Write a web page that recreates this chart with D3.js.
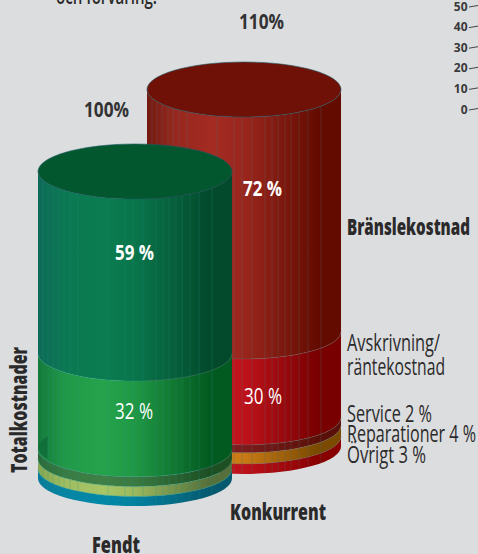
<!DOCTYPE html>
<html><head><meta charset="utf-8">
<script src="https://cdn.jsdelivr.net/npm/d3@7"></script>
<style>html,body{margin:0;padding:0;background:#dcddde;overflow:hidden}svg{display:block}text{font-family:"Open Sans",sans-serif}</style>
</head><body><div id="c"></div>
<script>
// ---- data ----
const segments = ["Bränslekostnad","Avskrivning/räntekostnad","Service","Reparationer","Övrigt"];
const fendtLabels = [59,32,3,3,3];
const konkurrentLabels = [72,30,2,4,3];
// the drawn band heights of the original are not strictly proportional to its labels
const fendtDrawn = [59.3,31.2,3.2,3.2,3.1];
const konkurrentDrawn = [78.8,28,2.6,3.6,3.25];
const axisTicks = [0,10,20,30,40,50];
const streakOffsets = [-92,-87,-82,-76,-71,-65,-57,-27,-10,-2,8,21,28,34,41,47,55,64,77];
const fendtColors = [
  ["#0e6a58","#0a7c50","#034a2c"],["#147a3a","#25a34b","#035a20"],
  ["#2a6a3a","#3f8046","#1d4f22"],["#86a650","#a8c666","#55703a"],["#0a7a99","#0388a8","#055a70"]];
const konkurrentColors = [
  ["#731a10","#a32b22","#640b00"],["#cc1520","#cc1520","#780000"],
  ["#7d2020","#801e20","#5a1008"],["#d68218","#d68218","#7a4a00"],["#c8141e","#c8141e","#880000"]];

const W=478,H=554;
const svg=d3.select("#c").append("svg").attr("width",W).attr("height",H);
svg.append("rect").attr("width",W).attr("height",H).attr("fill","#dcddde");
const defs=svg.append("defs");
const h=d3.scaleLinear().domain([0,100]).range([0,307]);
const rx=97, ry=27.5;

function cylinder(id,cx,topY,drawn,colors,topColor,streak,streakOp){
  const g=svg.append("g");
  const cum=d3.cumsum(drawn);
  const ys=[topY,...cum.map(v=>topY+h(v))];
  const x=d3.scaleLinear().domain([0,1]).range([cx-rx,cx+rx]);
  const arcY=(dx,y)=>y+ry*Math.sqrt(Math.max(0,1-dx*dx/(rx*rx)));
  drawn.forEach((d,i)=>{
    const gid=id+"g"+i;
    const gr=defs.append("linearGradient").attr("id",gid).attr("gradientUnits","userSpaceOnUse")
      .attr("x1",x(0)).attr("x2",x(1)).attr("y1",0).attr("y2",0);
    [[0,colors[i][0]],[0.14,d3.interpolateRgb(colors[i][0],colors[i][1])(0.75)],[0.34,colors[i][1]],[0.5,d3.interpolateRgb(colors[i][1],colors[i][2])(0.15)],[0.88,colors[i][2]],[1,colors[i][2]]]
      .forEach(s=>gr.append("stop").attr("offset",s[0]).attr("stop-color",s[1]));
    const y0=ys[i],y1=ys[i+1];
    g.append("path")
      .attr("d",`M${cx-rx},${y0}A${rx},${ry} 0 0 0 ${cx+rx},${y0}L${cx+rx},${y1}A${rx},${ry} 0 0 1 ${cx-rx},${y1}Z`)
      .attr("fill",`url(#${gid})`);
    g.selectAll(null).data(streakOffsets).join("line")
      .attr("x1",d=>cx+d).attr("x2",d=>cx+d)
      .attr("y1",d=>arcY(d,y0)).attr("y2",d=>arcY(d,y1))
      .attr("stroke",streak).attr("stroke-opacity",streakOp).attr("stroke-width",0.7);
    if(i>0) g.append("path").attr("d",`M${cx-rx},${y0}A${rx},${ry} 0 0 0 ${cx+rx},${y0}`)
      .attr("fill","none").attr("stroke",streak).attr("stroke-opacity",0.55).attr("stroke-width",0.7);
  });
  g.append("ellipse").attr("cx",cx).attr("cy",topY).attr("rx",rx).attr("ry",ry)
    .attr("fill",topColor).attr("stroke","#1c5a66").attr("stroke-width",0.6);
  return g;
}
cylinder("k",244,89.5,konkurrentDrawn,konkurrentColors,"#701107","#5c6a6a",0.45);
const fg=cylinder("f",135,171.5,fendtDrawn,fendtColors,"#03572f","#1f9a88",0.35);
// small dark wedge at the left of the 32 % band
fg.append("path").attr("d","M38,447 Q39,441 47.5,436.5 L47.5,458 Q39,454 38,447Z").attr("fill","#11703a");

function txt(s,x,y,w,size,weight,fill,rot){
  const t=svg.append("text").attr("x",x).attr("y",y).attr("font-size",size).attr("font-weight",weight)
    .attr("fill",fill).attr("textLength",w).attr("lengthAdjust","spacingAndGlyphs").text(s);
  if(rot) t.attr("transform",`rotate(-90 ${x} ${y})`);
  return t;
}
const dark="#2b2a2b";
txt("och förvaring.",56,4,101,22,600,dark);
txt("110%",239,29,45,22,700,"#333234");
txt("100%",84,117,45,22,700,"#333234");
txt(konkurrentLabels[0]+" %",243,196,39,21,700,"#fff");
txt(fendtLabels[0]+" %",115,260,39,21,700,"#fff");
txt(fendtLabels[1]+" %",115,418.5,38,21,400,"#fff");
txt(konkurrentLabels[1]+" %",244,404,38,21,400,"#fff");
txt(segments[0],347,235,123,22,800,dark);
txt("Avskrivning/",347,351,93,23.5,500,dark);
txt("räntekostnad",347,375,98,23.5,500,dark);
txt(segments[2]+" "+konkurrentLabels[2]+" %",347,422,85,23.5,500,dark);
txt(segments[3]+" "+konkurrentLabels[3]+" %",347,442,129,23.5,500,dark);
txt(segments[4]+" "+konkurrentLabels[4]+" %",347,462.5,79,23.5,500,dark);
txt("Konkurrent",230,520,96,22,800,dark);
txt("Fendt",92,552.5,48,22,800,dark);
txt("Totalkostnader",27,473,126,22,800,dark,true);

const ay=d3.scaleLinear().domain([0,50]).range([109,6]);
const ax=svg.append("g");
ax.selectAll("text").data(axisTicks).join("text")
  .attr("x",467.5).attr("y",d=>ay(d)+4.5).attr("text-anchor","end")
  .attr("font-size",12).attr("font-weight",700).attr("fill","#3a393b")
  .attr("font-family","Liberation Sans Narrow, Liberation Sans").text(d=>d);
ax.selectAll("line").data(axisTicks).join("line")
  .attr("x1",469).attr("x2",478).attr("y1",d=>ay(d)+1).attr("y2",d=>ay(d)-0.5)
  .attr("stroke","#333").attr("stroke-width",0.9);
</script></body></html>
